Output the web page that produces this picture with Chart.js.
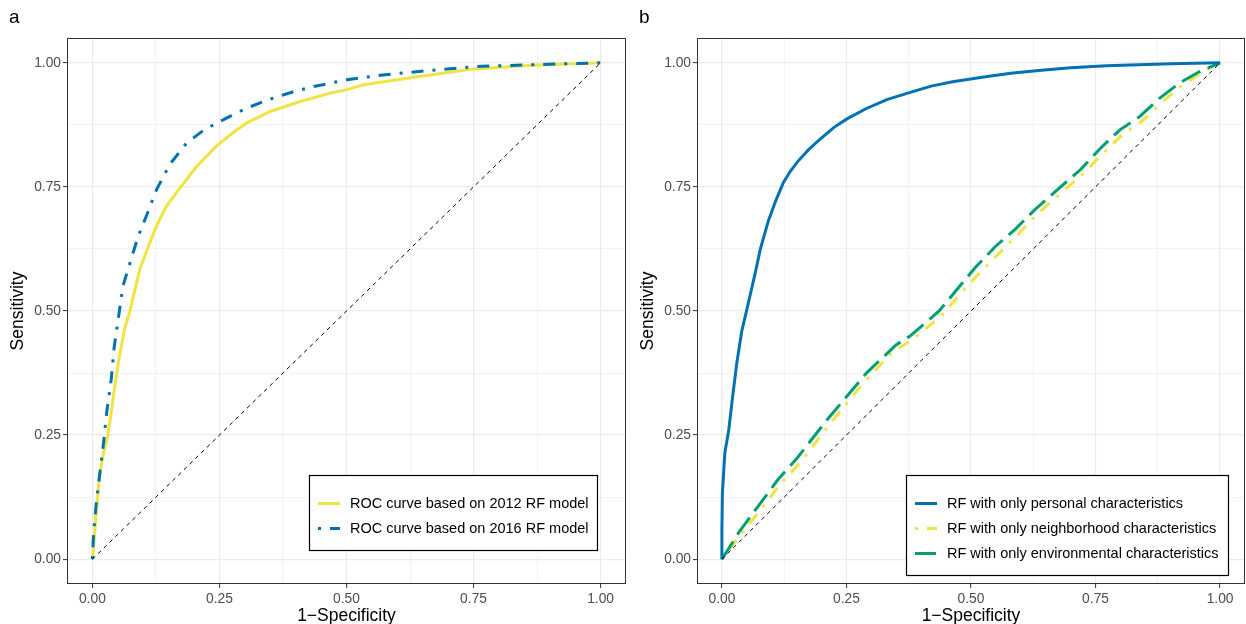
<!DOCTYPE html>
<html>
<head>
<meta charset="utf-8">
<script src="https://cdn.jsdelivr.net/npm/chart.js@4.4.1/dist/chart.umd.min.js"></script>
<style>
  body { margin: 0; background: #fff; }
  #wrap { position: relative; width: 1246px; height: 624px; overflow: hidden; }
  canvas { position: absolute; top: 0; }
</style>
</head>
<body>
<div id="wrap">
  <canvas id="panel-a" width="630" height="624" style="left:0px"></canvas>
  <canvas id="panel-b" width="616" height="624" style="left:630px"></canvas>
</div>
<script>
// axis ticks (major get labels, minor only grid lines)
const tickValues = [0, 0.125, 0.25, 0.375, 0.5, 0.625, 0.75, 0.875, 1];

// panel a: 2012 RF model
const fpr2012 = [0, 0.002, 0.007, 0.014, 0.022, 0.030, 0.037, 0.043, 0.052, 0.063, 0.073, 0.093, 0.110, 0.126, 0.145, 0.165, 0.205, 0.244, 0.275, 0.304, 0.350, 0.409, 0.468, 0.501, 0.534, 0.633, 0.745, 0.864, 1];
const tpr2012 = [0, 0.020, 0.087, 0.168, 0.215, 0.248, 0.295, 0.342, 0.402, 0.463, 0.497, 0.583, 0.630, 0.671, 0.710, 0.738, 0.791, 0.832, 0.858, 0.879, 0.902, 0.922, 0.939, 0.946, 0.956, 0.971, 0.987, 0.995, 1];

// panel a: 2016 RF model
const fpr2016 = [0, 0.002, 0.007, 0.014, 0.022, 0.028, 0.037, 0.043, 0.047, 0.060, 0.076, 0.090, 0.106, 0.126, 0.152, 0.185, 0.220, 0.251, 0.280, 0.304, 0.350, 0.396, 0.430, 0.468, 0.501, 0.567, 0.666, 0.765, 0.897, 1];
const tpr2016 = [0, 0.047, 0.107, 0.168, 0.235, 0.295, 0.362, 0.429, 0.456, 0.550, 0.604, 0.650, 0.691, 0.744, 0.795, 0.838, 0.865, 0.882, 0.897, 0.909, 0.927, 0.942, 0.951, 0.959, 0.966, 0.975, 0.985, 0.993, 0.997, 1];

// panel b: personal characteristics
const fprPersonal = [0, 0.000, 0.001, 0.006, 0.014, 0.020, 0.030, 0.040, 0.053, 0.067, 0.077, 0.093, 0.108, 0.123, 0.137, 0.152, 0.175, 0.199, 0.225, 0.251, 0.290, 0.331, 0.383, 0.420, 0.463, 0.529, 0.580, 0.641, 0.700, 0.772, 0.900, 1];
const tprPersonal = [0, 0.060, 0.134, 0.215, 0.262, 0.315, 0.396, 0.460, 0.516, 0.577, 0.624, 0.681, 0.722, 0.758, 0.781, 0.801, 0.826, 0.848, 0.870, 0.887, 0.908, 0.926, 0.942, 0.953, 0.962, 0.972, 0.979, 0.985, 0.990, 0.994, 0.998, 1];

// panel b: neighborhood characteristics
const fprNeighborhood = [0, 0.030, 0.070, 0.118, 0.160, 0.215, 0.288, 0.345, 0.380, 0.440, 0.488, 0.520, 0.560, 0.595, 0.632, 0.685, 0.725, 0.765, 0.805, 0.845, 0.885, 0.920, 0.960, 1];
const tprNeighborhood = [0, 0.040, 0.090, 0.152, 0.198, 0.270, 0.360, 0.420, 0.440, 0.490, 0.545, 0.580, 0.620, 0.655, 0.694, 0.742, 0.776, 0.818, 0.856, 0.884, 0.922, 0.952, 0.978, 1];

// panel b: environmental characteristics
const fprEnvironmental = [0, 0.034, 0.073, 0.113, 0.152, 0.212, 0.291, 0.350, 0.377, 0.436, 0.483, 0.509, 0.549, 0.588, 0.628, 0.681, 0.720, 0.760, 0.799, 0.839, 0.879, 0.918, 0.958, 1];
const tprEnvironmental = [0, 0.054, 0.107, 0.161, 0.205, 0.282, 0.376, 0.432, 0.449, 0.500, 0.557, 0.588, 0.630, 0.664, 0.704, 0.751, 0.785, 0.828, 0.865, 0.892, 0.929, 0.959, 0.982, 1];

// reference diagonal
const fprChance = [0, 1];
const tprChance = [0, 1];

const FONT = "'Liberation Sans', Arial, sans-serif";
const BLUE = "#0072B2";
const YELLOW = "#F0E442";
const GREEN = "#009E73";

function toPoints(xs, ys) {
  return xs.map((x, i) => ({ x: x, y: ys[i] }));
}

function isMajor(v) {
  return Math.abs(v * 4 - Math.round(v * 4)) < 1e-6;
}

function curve(label, xs, ys, color, dash, order) {
  return {
    label: label,
    data: toPoints(xs, ys),
    borderColor: color,
    backgroundColor: color,
    borderWidth: 3,
    borderDash: dash,
    pointRadius: 0,
    showLine: true,
    tension: 0,
    order: order,
  };
}

function chance() {
  return {
    label: "",
    data: toPoints(fprChance, tprChance),
    borderColor: "#000000",
    borderWidth: 1,
    borderDash: [4, 4],
    pointRadius: 0,
    showLine: true,
    order: 0,
    hideInLegend: true,
  };
}

// frame around the plot area + panel letter
const framePlugin = {
  id: "frame",
  afterDraw(chart, args, opts) {
    const ctx = chart.ctx;
    const a = chart.chartArea;
    ctx.save();
    ctx.strokeStyle = "#333333";
    ctx.lineWidth = 1;
    ctx.strokeRect(a.left + 0.5, a.top + 0.5, a.right - a.left - 1, a.bottom - a.top - 1);
    ctx.fillStyle = "#000";
    ctx.font = "19px " + FONT;
    ctx.textBaseline = "middle";
    ctx.fillText(opts.letter, 9, 18);
    ctx.restore();
  },
};

// legend box inside the plot, like ggplot's
const boxLegendPlugin = {
  id: "boxLegend",
  afterDraw(chart, args, opts) {
    const ctx = chart.ctx;
    const items = chart.data.datasets.filter((d) => !d.hideInLegend);
    ctx.save();
    ctx.fillStyle = "#fff";
    ctx.fillRect(opts.left, opts.top, opts.width, opts.height);
    ctx.strokeStyle = "#000";
    ctx.lineWidth = 1.2;
    ctx.strokeRect(opts.left + 0.5, opts.top + 0.5, opts.width, opts.height);
    ctx.font = "14.5px " + FONT;
    ctx.textBaseline = "middle";
    items.forEach((d, i) => {
      const y = opts.top + 28.5 + i * 25;
      ctx.beginPath();
      ctx.strokeStyle = d.borderColor;
      ctx.lineWidth = 3;
      ctx.setLineDash(d.borderDash || []);
      ctx.moveTo(opts.left + 9, y);
      ctx.lineTo(opts.left + 31, y);
      ctx.stroke();
      ctx.setLineDash([]);
      ctx.fillStyle = "#000";
      ctx.fillText(d.label, opts.left + 41, y + 0.5);
    });
    ctx.restore();
  },
};

function axis(title, isY) {
  return {
    type: "linear",
    min: -0.05,
    max: 1.05,
    afterBuildTicks: (scale) => {
      scale.ticks = tickValues.map((v) => ({ value: v }));
    },
    afterFit: (scale) => {
      if (isY) scale.width = 59;
      else scale.height = 40;
    },
    border: { display: false },
    grid: {
      color: "#EBEBEB",
      lineWidth: (c) => (c.tick && isMajor(c.tick.value) ? 1.2 : 0.6),
      tickColor: (c) => (c.tick && isMajor(c.tick.value) ? "#333333" : "rgba(0,0,0,0)"),
      tickLength: 4,
      tickWidth: 1,
    },
    ticks: {
      autoSkip: false,
      maxRotation: 0,
      padding: isY ? 2 : 3,
      color: "#4D4D4D",
      font: { family: FONT, size: 13.8 },
      callback: (v) => (isMajor(v) ? v.toFixed(2) : ""),
    },
    title: {
      display: true,
      text: title,
      color: "#000",
      font: { family: FONT, size: 17.5 },
      padding: isY ? { top: 0, bottom: 0 } : { top: 0, bottom: -3 },
    },
  };
}

function makeChart(canvas, datasets, letter, rightPad, legendBox) {
  return new Chart(canvas.getContext("2d"), {
    type: "scatter",
    data: { datasets: datasets },
    options: {
      responsive: false,
      animation: false,
      layout: { padding: { left: 8, right: rightPad, top: 38, bottom: 0 } },
      plugins: {
        legend: { display: false },
        tooltip: { enabled: false },
        frame: { letter: letter },
        boxLegend: legendBox,
      },
      scales: {
        x: axis("1\u2212Specificity", false),
        y: axis("Sensitivity", true),
      },
    },
    plugins: [framePlugin, boxLegendPlugin],
  });
}

makeChart(
  document.querySelector("#panel-a"),
  [
    curve("ROC curve based on 2012 RF model", fpr2012, tpr2012, YELLOW, [], 2),
    curve("ROC curve based on 2016 RF model", fpr2016, tpr2016, BLUE, [3, 9, 12, 9], 1),
    chance(),
  ],
  "a",
  4,
  { left: 309, top: 475, width: 288, height: 75 }
);

makeChart(
  document.querySelector("#panel-b"),
  [
    curve("RF with only personal characteristics", fprPersonal, tprPersonal, BLUE, [], 1),
    curve("RF with only neighborhood characteristics", fprNeighborhood, tprNeighborhood, YELLOW, [3, 9, 12, 9], 3),
    curve("RF with only environmental characteristics", fprEnvironmental, tprEnvironmental, GREEN, [21, 8], 2),
    chance(),
  ],
  "b",
  1,
  { left: 276, top: 475, width: 322, height: 100 }
);
</script>
</body>
</html>
